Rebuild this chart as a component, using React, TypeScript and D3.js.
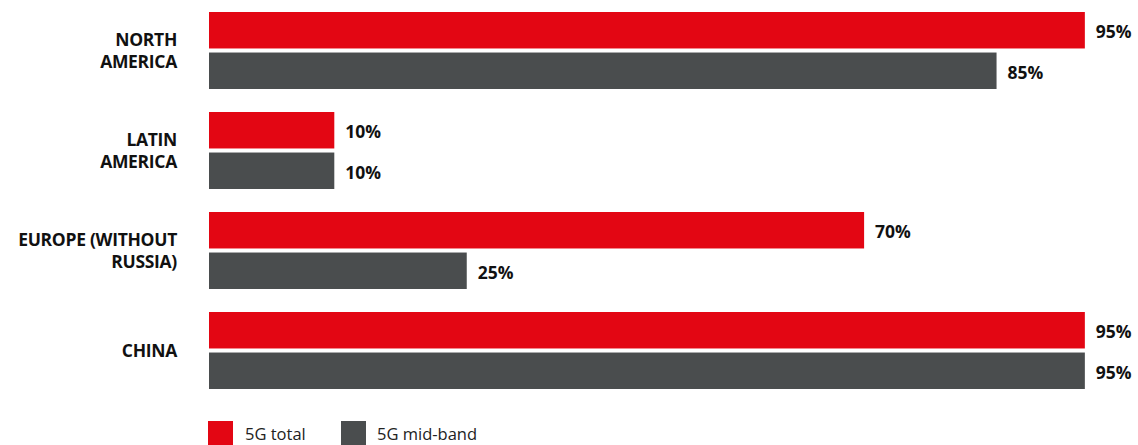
import React from "react"
import * as d3 from "d3"

const categories = [
  ["NORTH", "AMERICA"],
  ["LATIN", "AMERICA"],
  ["EUROPE (WITHOUT", "RUSSIA)"],
  ["CHINA"],
]
const seriesNames = ["5G total", "5G mid-band"]
const totalValues = [95, 10, 70, 95]
const midBandValues = [85, 10, 25, 95]
const colors = ["#e30613", "#4a4d4e"]

const width = 1138
const height = 445
const barLeft = 209

export default function App() {
  // bar length grows with the value, the drawn axis origin sits a little left of the bars
  const lenScale = d3.scaleLinear().domain([0, 100]).range([37, 920])

  const yGroup = d3
    .scaleBand<number>()
    .domain(d3.range(categories.length))
    .range([12, 389])
    .paddingInner(0.23)
    .paddingOuter(0)

  const yInner = d3
    .scaleBand<number>()
    .domain([0, 1])
    .range([0, yGroup.bandwidth()])
    .paddingInner(0.1)

  const series = [totalValues, midBandValues]

  return (
    <svg
      width={width}
      height={height}
      style={{ position: "absolute", left: 0, top: 0 }}
      fontFamily="'Open Sans', 'Noto Sans', sans-serif"
    >
      {categories.map((lines, i) => {
        const gy = yGroup(i)!
        const cy = gy + yGroup.bandwidth() / 2
        const lh = 22
        return (
          <g key={i}>
            <text
              x={177}
              y={cy - ((lines.length - 1) * lh) / 2 - 1}
              textAnchor="end"
              dominantBaseline="central"
              fontWeight="bold"
              fontSize={17.5}
              fill="#111"
              letterSpacing={-0.3}
            >
              {lines.map((l, j) => (
                <tspan key={j} x={177} dy={j === 0 ? 0 : lh}>
                  {l}
                </tspan>
              ))}
            </text>
            {series.map((vals, s) => {
              const y = gy + yInner(s)!
              const w = lenScale(vals[i])
              return (
                <g key={s}>
                  <rect
                    x={barLeft}
                    y={y}
                    width={w}
                    height={yInner.bandwidth()}
                    fill={colors[s]}
                  />
                  <text
                    x={barLeft + w + 11}
                    y={y + yInner.bandwidth() / 2 + 1}
                    dominantBaseline="central"
                    fontWeight="bold"
                    fontSize={17.5}
                    fill="#111"
                  >
                    {vals[i]}%
                  </text>
                </g>
              )
            })}
          </g>
        )
      })}
      {seriesNames.map((name, s) => {
        const lx = 208 + s * 133
        return (
          <g key={name}>
            <rect x={lx} y={421} width={25} height={25} fill={colors[s]} />
            <text x={lx + 37 - s} y={440} fontSize={16.5} fill="#222">
              {name}
            </text>
          </g>
        )
      })}
    </svg>
  )
}
